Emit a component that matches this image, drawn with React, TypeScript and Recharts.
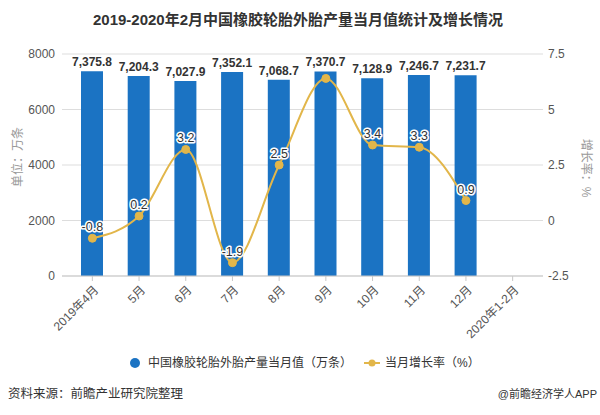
import React from 'react';
import {
  ComposedChart,
  Bar,
  Line,
  XAxis,
  YAxis,
  CartesianGrid,
  LabelList,
} from 'recharts';

const categories = ['2019年4月', '5月', '6月', '7月', '8月', '9月', '10月', '11月', '12月', '2020年1-2月'];
const outputValues: (number | null)[] = [7375.8, 7204.3, 7027.9, 7352.1, 7068.7, 7370.7, 7128.9, 7246.7, 7231.7, null];
const growthRates: (number | null)[] = [-0.8, 0.2, 3.2, -1.9, 2.5, 6.4, 3.4, 3.3, 0.9, null];
const hiddenRateLabels = ['9月'];
const leftTicks = [0, 2000, 4000, 6000, 8000];
const rightTicks = [-2.5, 0, 2.5, 5, 7.5];

const data = categories.map((c, i) => ({
  name: c,
  output: outputValues[i],
  rate: growthRates[i],
}));

const BAR_COLOR = '#1B73C3';
const LINE_COLOR = '#E2B64A';
const CJK = '"Liberation Sans", "Noto Sans CJK SC", sans-serif';
const NARROW = '"Liberation Sans Narrow", "Liberation Sans", "Noto Sans CJK SC", sans-serif';

const fmtThousands = (v: any) =>
  v == null ? '' : Number(v).toLocaleString('en-US', { minimumFractionDigits: 1, maximumFractionDigits: 1 });

const XTick = (props: any) => {
  const { x, y, payload } = props;
  return (
    <g transform={`translate(${x + 4},${y + 5})`}>
      <text
        x={0}
        y={0}
        dy={4}
        textAnchor="end"
        transform="rotate(-45)"
        fill="#555"
        fontSize={12}
        fontFamily={NARROW}
      >
        {payload.value}
      </text>
    </g>
  );
};

const RateLabel = (props: any) => {
  const { x, y, value, index } = props;
  if (value == null) return null;
  if (hiddenRateLabels.includes(categories[index])) return null;
  return (
    <text
      x={x}
      y={y - 7}
      textAnchor="middle"
      fill="#333"
      fontSize={12.5}
      fontFamily={CJK}
      stroke="#fff"
      strokeWidth={3}
      paintOrder="stroke"
      strokeLinejoin="round"
    >
      {value}
    </text>
  );
};

export default function App() {
  return (
    <div style={{ position: 'absolute', left: 0, top: 0, width: 600, height: 415, background: '#fff' }}>
      <ComposedChart
        width={600}
        height={415}
        data={data}
        margin={{ top: 54, right: 13, bottom: 79, left: 18 }}
      >
        <CartesianGrid yAxisId="left" horizontal vertical={false} stroke="#dddddd" />
        <XAxis
          dataKey="name"
          interval={0}
          height={60}
          padding={{ left: 7, right: 7 }}
          axisLine={{ stroke: '#c8c8c8' }}
          tickLine={{ stroke: '#c8c8c8' }}
          tickSize={5}
          tick={<XTick />}
        />
        <YAxis
          yAxisId="left"
          domain={[0, 8000]}
          ticks={leftTicks}
          width={44}
          axisLine={false}
          tickLine={false}
          tickSize={0}
          tickMargin={7}
          tick={{ fill: '#555', fontSize: 12, fontFamily: NARROW }}
        />
        <YAxis
          yAxisId="right"
          orientation="right"
          domain={[-2.5, 7.5]}
          ticks={rightTicks}
          width={44}
          axisLine={false}
          tickLine={false}
          tickSize={0}
          tickMargin={5}
          tick={{ fill: '#555', fontSize: 12, fontFamily: NARROW }}
        />
        <Bar yAxisId="left" dataKey="output" fill={BAR_COLOR} barSize={22} isAnimationActive={false}>
          <LabelList
            dataKey="output"
            position="top"
            offset={5}
            formatter={fmtThousands}
            fill="#333"
            fontSize={12}
            fontWeight="bold"
            fontFamily={CJK}
          />
        </Bar>
        <Line
          yAxisId="right"
          dataKey="rate"
          type="monotone"
          stroke={LINE_COLOR}
          strokeWidth={2}
          dot={{ r: 4, fill: LINE_COLOR, stroke: LINE_COLOR, strokeWidth: 1 }}
          isAnimationActive={false}
          connectNulls={false}
        >
          <LabelList dataKey="rate" content={<RateLabel />} />
        </Line>
      </ComposedChart>
      <svg
        width={600}
        height={415}
        style={{ position: 'absolute', left: 0, top: 0, pointerEvents: 'none' }}
      >
        <text x={298} y={25} textAnchor="middle" fontSize={15} fontWeight="bold" fill="#333" fontFamily={CJK}>
          2019-2020年2月中国橡胶轮胎外胎产量当月值统计及增长情况
        </text>
        <text
          transform="translate(22,157) rotate(-90)"
          textAnchor="middle"
          fontSize={12}
          fill="#999"
          fontFamily={CJK}
        >
          单位：万条
        </text>
        <text
          transform="translate(582,168) rotate(90)"
          textAnchor="middle"
          fontSize={12}
          fill="#999"
          fontFamily={CJK}
        >
          增长率：%
        </text>
        <circle cx={135} cy={363} r={5} fill={BAR_COLOR} />
        <text x={148} y={367} fontSize={12} fill="#333" fontFamily={CJK}>
          中国橡胶轮胎外胎产量当月值（万条）
        </text>
        <line x1={364} y1={363} x2={380} y2={363} stroke={LINE_COLOR} strokeWidth={2} />
        <circle cx={372} cy={363} r={3.5} fill={LINE_COLOR} />
        <text x={385} y={367} fontSize={12} fill="#333" fontFamily={CJK}>
          当月增长率（%）
        </text>
        <text x={8} y={398} fontSize={12.5} fill="#333" fontFamily={CJK}>
          资料来源：前瞻产业研究院整理
        </text>
        <text x={597} y={398} textAnchor="end" fontSize={11} fill="#333" fontFamily={CJK}>
          @前瞻经济学人APP
        </text>
      </svg>
    </div>
  );
}
